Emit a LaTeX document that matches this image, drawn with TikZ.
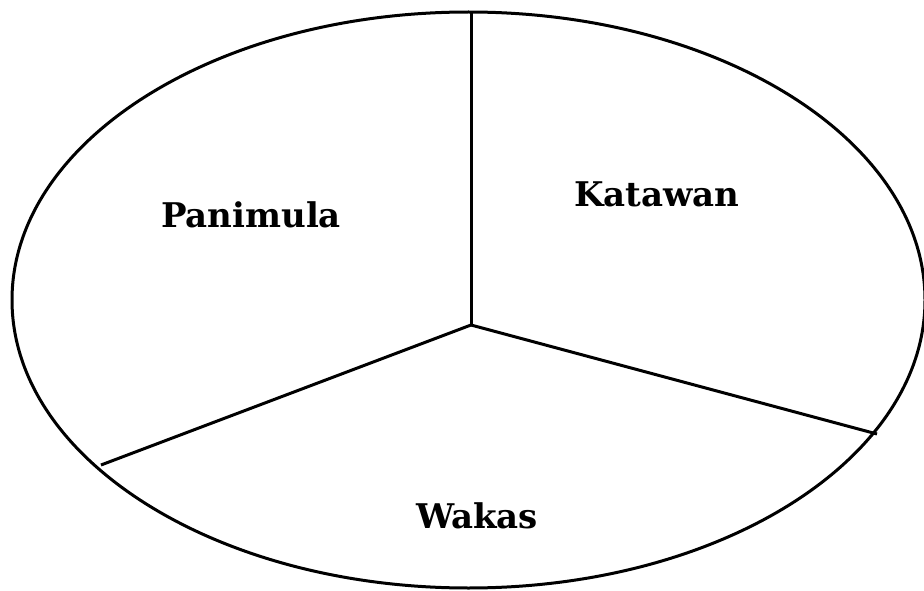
\documentclass[tikz,border=0pt]{standalone}
\usepackage{fontspec}
\usetikzlibrary{shapes.geometric}
\newfontfamily\lblfont{DejaVu Serif}
\begin{document}
\begin{tikzpicture}[x=1pt,y=-1pt,
  edge/.style={line width=3pt},
  lbl/.style={font=\lblfont\bfseries\fontsize{34}{38}\selectfont, anchor=base, inner sep=0pt}]
\useasboundingbox (0,0) rectangle (924,591);
\node[draw, line width=3pt, ellipse, minimum width=913pt, minimum height=576pt, inner sep=0pt] (oval) at (468.5,300) {};
\coordinate (c) at (471,325);
\coordinate (t) at (471,12);
\coordinate (r) at (877,434);
\coordinate (l) at (101,465);
\draw[edge] (c) -- (t);
\draw[edge] (c) -- (r);
\draw[edge] (c) -- (l);
\node[lbl] (p) at (251,227) {Panimula};
\node[lbl] (k) at (657,207) {Katawan};
\node[lbl] (w) at (477,528) {Wakas};
\end{tikzpicture}
\end{document}
